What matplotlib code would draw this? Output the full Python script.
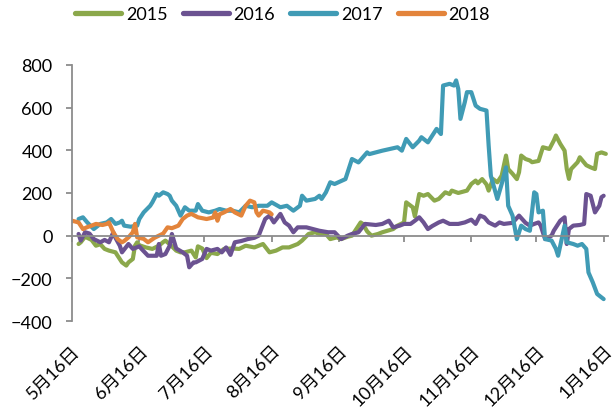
import numpy as np
import matplotlib
matplotlib.use("Agg")
import matplotlib.pyplot as plt

plt.rcParams["font.family"] = ["Lato", "Noto Sans CJK SC", "DejaVu Sans"]

# ── Data: day offset from 5月16日, value ─────────────────────────────────────
days_2015 = [3, 4, 6, 9, 11, 13, 15, 17, 20, 21, 23, 25, 26, 28, 29, 30, 31, 34, 37, 40,
             42, 43, 45, 48, 50, 52, 55, 57, 58, 60, 62, 64, 67, 70, 74, 77, 80, 84, 88, 91,
             94, 97, 100, 104, 106, 109, 112, 114, 117, 119, 122, 124, 127, 129, 131, 133, 134, 136, 138, 141,
             143, 146, 148, 150, 153, 154, 157, 158, 160, 162, 164, 167, 169, 172, 174, 175, 178, 182, 184, 186,
             187, 189, 191, 192, 194, 196, 198, 200, 201, 203, 205, 206, 207, 209, 211, 212, 215, 217, 220, 222,
             223, 225, 227, 228, 229, 230, 233, 234, 237, 239, 241, 242, 244, 246]
vals_2015 = [-39, -31, -5, -20, -47, -40, -62, -70, -78, -94, -125, -140, -125, -109, -47, -31, -45, -55, -62, -47,
             -30, -23, -40, -70, -78, -78, -70, -102, -50, -60, -105, -80, -86, -62, -60, -62, -47, -55, -39, -78,
             -70, -55, -55, -39, -23, 8, 16, 8, 8, -16, -8, -16, -5, 0, 31, 62, 55, 20, 0, 8,
             16, 25, 31, 47, 62, 156, 133, 90, 195, 187, 195, 164, 172, 203, 195, 211, 200, 211, 242, 258,
             245, 265, 240, 211, 265, 250, 281, 375, 312, 290, 265, 297, 375, 359, 352, 344, 350, 414, 406, 445,
             469, 430, 398, 312, 266, 312, 344, 367, 330, 320, 312, 383, 390, 383]

days_2016 = [3, 4, 6, 8, 10, 13, 15, 17, 19, 20, 22, 23, 26, 28, 31, 32, 35, 39, 40, 41,
             43, 45, 46, 48, 51, 53, 54, 56, 57, 60, 62, 64, 67, 69, 71, 73, 75, 78, 81, 84,
             86, 89, 91, 93, 96, 98, 100, 102, 104, 108, 111, 114, 118, 121, 124, 127, 129, 132, 135, 140,
             143, 146, 148, 151, 153, 156, 158, 160, 162, 164, 166, 169, 171, 174, 178, 181, 184, 186, 188, 190,
             192, 195, 197, 199, 203, 206, 209, 211, 213, 215, 216, 218, 221, 222, 225, 227, 228, 229, 231, 234,
             236, 237, 239, 241, 243, 244, 245]
vals_2016 = [8, -23, 16, 10, -16, -31, -20, -31, 16, -10, -47, -78, -39, -62, -50, -62, -94, -94, -39, -94,
             -86, -47, 8, -60, -78, -94, -148, -125, -125, -109, -62, -70, -62, -78, -55, -90, -31, -25, -16, -10,
             0, 78, 94, 62, 102, 62, 47, 16, 39, 39, 31, 23, 16, 16, -16, 0, 8, 16, 55, 50,
             55, 70, 39, 47, 55, 55, 70, 86, 62, 31, 45, 62, 70, 55, 55, 62, 75, 55, 94, 86,
             62, 47, 62, 55, 60, 94, 60, 47, 55, 62, 47, -16, 0, 23, 70, 86, -39, 31, 47, 50,
             55, 195, 187, 109, 140, 180, 187]

days_2017 = [3, 5, 7, 10, 13, 16, 18, 20, 22, 23, 24, 27, 30, 31, 33, 36, 37, 39, 40, 42,
             44, 45, 46, 48, 50, 52, 54, 57, 58, 60, 63, 66, 68, 71, 74, 77, 80, 83, 86, 90,
             92, 96, 99, 102, 105, 106, 108, 112, 114, 115, 117, 119, 121, 126, 129, 132, 136, 137, 143, 150,
             152, 154, 157, 160, 161, 164, 168, 170, 171, 174, 176, 177, 178, 179, 181, 182, 184, 186, 188, 191,
             192, 193, 196, 198, 200, 201, 203, 205, 207, 209, 211, 213, 214, 215, 217, 218, 221, 223, 224, 227,
             228, 231, 233, 235, 237, 238, 240, 242, 243, 245]
vals_2017 = [78, 86, 62, 31, 55, 62, 78, 55, 62, 70, 47, 42, 47, 78, 109, 140, 156, 195, 187, 203,
             195, 187, 164, 140, 94, 133, 117, 117, 148, 117, 109, 117, 125, 117, 117, 109, 140, 133, 140, 140,
             156, 133, 140, 117, 140, 187, 164, 172, 187, 172, 203, 250, 242, 265, 359, 343, 390, 382, 398, 414,
             398, 453, 414, 445, 461, 437, 500, 476, 703, 711, 703, 727, 687, 547, 625, 672, 672, 609, 594, 586,
             422, 281, 172, 242, 320, 140, 94, -16, 47, 31, 23, 203, 195, 109, 117, -16, -23, -62, -94, 47,
             -31, -39, -47, -39, -62, -172, -219, -273, -281, -297]

days_2018 = [0, 3, 5, 7, 9, 11, 14, 16, 17, 19, 21, 23, 24, 26, 28, 29, 30, 33, 35, 38,
             40, 42, 44, 46, 49, 51, 53, 55, 58, 62, 65, 66, 67, 68, 70, 73, 75, 78, 80, 82,
             84, 85, 86, 88, 91, 92]
vals_2018 = [70, 62, 31, 40, 47, 55, 50, 55, 62, 16, -16, -31, -25, -8, 16, 55, -8, -15, -31, -10,
             0, 10, 39, 35, 47, 78, 94, 102, 86, 78, 85, 109, 70, 100, 109, 125, 109, 94, 140, 164,
             156, 109, 94, 117, 109, 100]

tick_days = [0, 31, 61, 92, 123, 153, 184, 214, 245]
tick_labels = ["5月16日", "6月16日", "7月16日", "8月16日", "9月16日",
               "10月16日", "11月16日", "12月16日", "1月16日"]

series = [
    ("2015", days_2015, vals_2015, "#8BA84B"),
    ("2016", days_2016, vals_2016, "#6B5291"),
    ("2017", days_2017, vals_2017, "#409BB5"),
    ("2018", days_2018, vals_2018, "#E3843B"),
]

# ── Plot ──────────────────────────────────────────────────────────────────────
fig = plt.figure(figsize=(6.16, 4.14), dpi=100)
ax = fig.add_axes([0.117, 0.222, 0.870, 0.619])

for name, d, v, c in series:
    ax.plot(d, v, color=c, lw=3.0, label=name, solid_joinstyle="round", solid_capstyle="round")

ax.set_xlim(0, 247)
ax.set_ylim(-400, 800)
ax.set_yticks(np.arange(-400, 801, 200))

gray = "#8C8C8C"
for s in ["top", "right"]:
    ax.spines[s].set_visible(False)
ax.spines["left"].set_color(gray)
ax.spines["left"].set_linewidth(1.3)
ax.spines["bottom"].set_position(("data", 0))
ax.spines["bottom"].set_color(gray)
ax.spines["bottom"].set_linewidth(1.3)
ax.set_xticks(tick_days)
ax.tick_params(axis="x", direction="out", length=4, width=1.3, color=gray, labelbottom=False)
ax.tick_params(axis="y", direction="out", length=4, width=1.3, color=gray, labelsize=13, pad=10)

sec = ax.secondary_xaxis("bottom")
sec.set_xticks(tick_days, labels=tick_labels)
sec.tick_params(length=0, pad=15, labelsize=13)
sec.spines["bottom"].set_visible(False)
for lab in sec.get_xticklabels():
    lab.set_rotation(45)
    lab.set_ha("right")
    lab.set_rotation_mode("anchor")

leg = fig.legend(loc="upper left", bbox_to_anchor=(0.122, 0.982), ncol=4, frameon=False,
                 fontsize=13, handlelength=2.55, handletextpad=0.25, columnspacing=0.85,
                 borderpad=0, borderaxespad=0)
for h in leg.get_lines():
    h.set_linewidth(3.8)
    h.set_solid_capstyle("round")

fig.savefig("out.png", dpi=100)
